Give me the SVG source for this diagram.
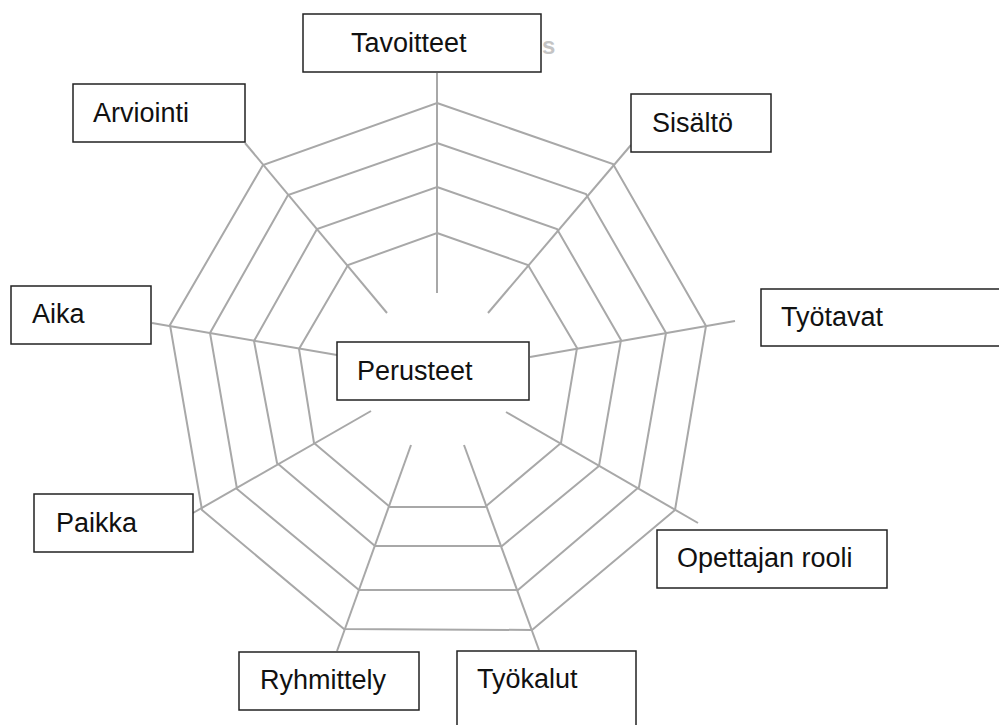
<svg xmlns="http://www.w3.org/2000/svg" width="999" height="725" viewBox="0 0 999 725">
<style>
.web{fill:none;stroke:#a8a8a8;stroke-width:2;stroke-linejoin:miter;stroke-linecap:butt}
.box{fill:#ffffff;stroke:#222222;stroke-width:1.5}
.lbl{font-family:"Liberation Sans",Arial,sans-serif;font-size:27px;fill:#111111}
.ghost{font-family:"Liberation Sans",Arial,sans-serif;font-size:24px;font-weight:bold;fill:#c4c4c4}
</style>
<rect width="999" height="725" fill="#ffffff"/>
<text class="ghost" x="542" y="54">s</text>
<g id="connectors">
<polygon class="web" points="437,103 613,164 706,326 675,510 532,630 344,629 202,510 170,325 263,165"/>
<polygon class="web" points="437,143 586,194 666,333 639,487 518,590 359,590 237,489 210,333 288,195"/>
<polygon class="web" points="437,187 557,229 621,340 599,466 502,546 375,546 277,463 254,341 317,229"/>
<polygon class="web" points="437,233 528,265 577,348 561,443 485,507 390,507 314,443 299,349 348,265"/>
<line class="web" x1="437" y1="73" x2="437" y2="293"/>
<line class="web" x1="631" y1="145" x2="488" y2="313"/>
<line class="web" x1="735" y1="321" x2="530" y2="357"/>
<line class="web" x1="698" y1="523" x2="506" y2="412"/>
<line class="web" x1="539" y1="650" x2="464" y2="445"/>
<line class="web" x1="337" y1="651" x2="411" y2="445"/>
<line class="web" x1="193" y1="513" x2="371" y2="411"/>
<line class="web" x1="152" y1="323" x2="337" y2="355"/>
<line class="web" x1="245" y1="143" x2="387" y2="313"/>
</g>
<g id="node-perusteet"><rect class="box" x="337" y="342" width="192" height="58"/><text class="lbl" x="357" y="380">Perusteet</text></g>
<g id="node-tavoitteet"><rect class="box" x="303" y="14" width="238" height="58"/><text class="lbl" x="351" y="52">Tavoitteet</text></g>
<g id="node-sisalto"><rect class="box" x="631" y="94" width="140" height="58"/><text class="lbl" x="652" y="132">Sisältö</text></g>
<g id="node-tyotavat"><rect class="box" x="761" y="289" width="260" height="57"/><text class="lbl" x="781" y="326">Työtavat</text></g>
<g id="node-opettajan-rooli"><rect class="box" x="657" y="530" width="230" height="58"/><text class="lbl" x="677" y="567">Opettajan rooli</text></g>
<g id="node-tyokalut"><rect class="box" x="457" y="651" width="179" height="90"/><text class="lbl" x="477" y="688">Työkalut</text></g>
<g id="node-ryhmittely"><rect class="box" x="239" y="652" width="180" height="58"/><text class="lbl" x="260" y="689">Ryhmittely</text></g>
<g id="node-paikka"><rect class="box" x="34" y="494" width="159" height="58"/><text class="lbl" x="56" y="532">Paikka</text></g>
<g id="node-aika"><rect class="box" x="11" y="286" width="140" height="58"/><text class="lbl" x="32" y="323">Aika</text></g>
<g id="node-arviointi"><rect class="box" x="73" y="84" width="172" height="58"/><text class="lbl" x="93" y="122">Arviointi</text></g>
</svg>
